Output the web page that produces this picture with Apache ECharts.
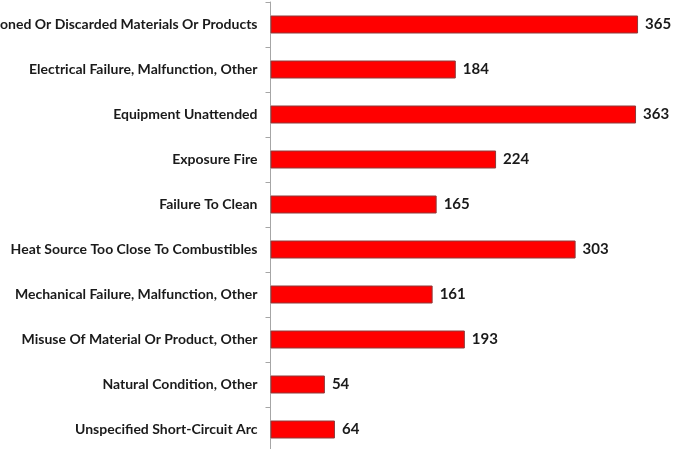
<!DOCTYPE html>
<html>
<head>
<meta charset="utf-8">
<script src="https://cdn.jsdelivr.net/npm/echarts@6/dist/echarts.min.js"></script>
<style>html,body{margin:0;padding:0;background:#fff}#c{width:686px;height:449px}</style>
</head>
<body>
<div id="c"></div>
<script>
const categories = [
  "Abandoned Or Discarded Materials Or Products",
  "Electrical Failure, Malfunction, Other",
  "Equipment Unattended",
  "Exposure Fire",
  "Failure To Clean",
  "Heat Source Too Close To Combustibles",
  "Mechanical Failure, Malfunction, Other",
  "Misuse Of Material Or Product, Other",
  "Natural Condition, Other",
  "Unspecified Short-Circuit Arc"
];
const values = [365, 184, 363, 224, 165, 303, 161, 193, 54, 64];

const chart = echarts.init(document.getElementById('c'), null, {renderer: 'canvas'});
chart.setOption({
  animation: false,
  grid: {left: 270.5, top: 2, height: 450, width: 402.8, containLabel: false, outerBoundsMode: 'none'},
  xAxis: {type: 'value', min: 0, max: 400, show: false},
  yAxis: {
    type: 'category', data: categories, inverse: true,
    axisLine: {show: true, lineStyle: {color: '#a6a6a6', width: 1}},
    axisTick: {show: true, length: 5, lineStyle: {color: '#a6a6a6'}},
    axisLabel: {fontFamily: 'Lato', fontWeight: 'bold', fontSize: 14, color: '#1a1a1a', margin: 13}
  },
  series: [{
    type: 'bar', data: values, barWidth: 18,
    itemStyle: {color: '#ff0000', borderColor: '#8c3a3a', borderWidth: 1},
    label: {show: true, position: 'right', distance: 7, fontFamily: 'Lato', fontWeight: 'bold', fontSize: 15, color: '#1a1a1a'}
  }]
});
</script>
</body>
</html>
